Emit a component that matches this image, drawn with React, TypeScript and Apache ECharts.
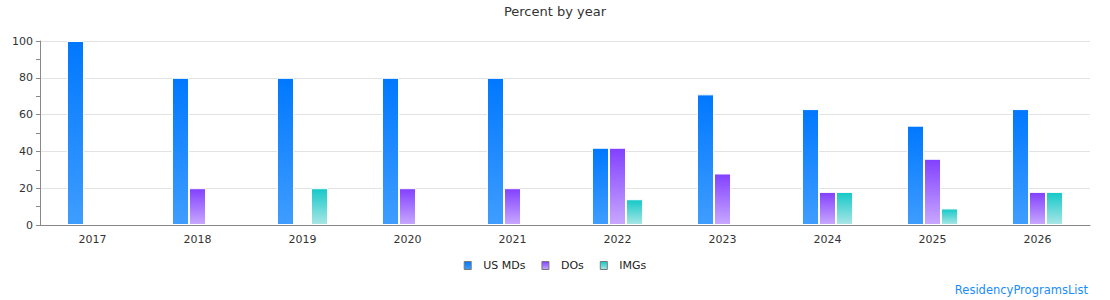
import React, { useEffect, useRef } from "react";
import * as echarts from "echarts";

const years = ["2017", "2018", "2019", "2020", "2021", "2022", "2023", "2024", "2025", "2026"];
const usMDs = [100, 80, 80, 80, 80, 42, 71, 63, 54, 63];
const dos = [0, 20, 0, 20, 20, 42, 28, 18, 36, 18];
const imgs = [0, 0, 20, 0, 0, 14, 0, 18, 9, 18];
const yTicks = [0, 20, 40, 60, 80, 100];

const FONT = "DejaVu Sans";

function grad(top: string, bottom: string) {
  return new echarts.graphic.LinearGradient(0, 0, 0, 1, [
    { offset: 0, color: top },
    { offset: 1, color: bottom },
  ]);
}

export default function App() {
  const ref = useRef<HTMLDivElement>(null);
  useEffect(() => {
    if (!ref.current) return;
    const chart = echarts.init(ref.current, undefined, { renderer: "svg" });
    const barCommon = { type: "bar" as const, barWidth: 17, barGap: "0%" };
    chart.setOption({
      animation: false,
      textStyle: { fontFamily: FONT },
      title: {
        text: "Percent by year",
        left: "center",
        top: 0,
        textStyle: { fontFamily: FONT, fontSize: 13, fontWeight: "normal", color: "#333" },
      },
      legend: {
        bottom: 24,
        left: "center",
        icon: "rect",
        itemWidth: 7,
        itemHeight: 8,
        itemGap: 16,
        itemStyle: { borderColor: "#777", borderWidth: 1 },
        textStyle: { fontFamily: FONT, fontSize: 11, color: "#222", padding: [0, 0, 0, 7] },
        data: ["US MDs", "DOs", "IMGs"],
      },
      grid: { left: 40, right: 20, top: 41, bottom: 75 },
      xAxis: {
        type: "category",
        data: years,
        z: 5,
        axisLine: { lineStyle: { color: "#888" } },
        axisTick: { show: false },
        axisLabel: { fontFamily: FONT, fontSize: 11, color: "#333", margin: 9 },
      },
      yAxis: {
        type: "value",
        min: yTicks[0],
        max: yTicks[yTicks.length - 1],
        interval: 20,
        axisLine: { show: true, lineStyle: { color: "#888" } },
        axisTick: { show: true, length: 4, lineStyle: { color: "#888" } },
        minorTick: { show: true, splitNumber: 2, length: 4, lineStyle: { color: "#888" } },
        axisLabel: { fontFamily: FONT, fontSize: 11, color: "#333", margin: 7 },
        splitLine: { lineStyle: { color: "#e3e3e3" } },
      },
      series: [
        {
          ...barCommon,
          name: "US MDs",
          data: usMDs,
          itemStyle: { color: grad("#0078ff", "#3f9dff"), borderColor: "#fff", borderWidth: 1 },
        },
        {
          ...barCommon,
          name: "DOs",
          data: dos,
          itemStyle: { color: grad("#8240ff", "#c8a8ff"), borderColor: "#fff", borderWidth: 1 },
        },
        {
          ...barCommon,
          name: "IMGs",
          data: imgs,
          itemStyle: { color: grad("#14c8c8", "#aae6e6"), borderColor: "#fff", borderWidth: 1 },
        },
      ],
      graphic: [
        {
          type: "text",
          right: 22,
          top: 284,
          style: { text: "ResidencyProgramsList", fontFamily: FONT, fontSize: 11.5, fill: "#1a8cff" },
        },
      ],
    });
    return () => chart.dispose();
  }, []);
  return (
    <div
      ref={ref}
      style={{ position: "absolute", left: 0, top: 0, width: 1110, height: 300 }}
    />
  );
}
